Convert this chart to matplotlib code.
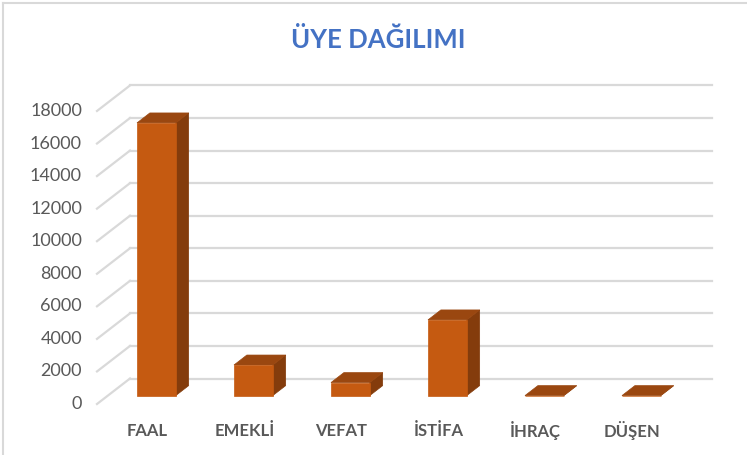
import matplotlib
matplotlib.use("Agg")
import matplotlib.pyplot as plt
from matplotlib.patches import Polygon
from matplotlib.lines import Line2D

categories = ["FAAL", "EMEKLİ", "VEFAT", "İSTİFA", "İHRAÇ", "DÜŞEN"]
values = [16750, 1880, 800, 4650, 0, 0]
yticks = [0, 2000, 4000, 6000, 8000, 10000, 12000, 14000, 16000, 18000]
title = "ÜYE DAĞILIMI"

FRONT = "#C55A11"
TOP = "#9A4710"
SIDE = "#843C0C"
GRID = "#D9D9D9"
TXT = "#595959"

W, H = 747, 455
fig = plt.figure(figsize=(W / 100, H / 100), dpi=100)
ax = fig.add_axes([0, 0, 1, 1])
ax.set_axis_off()

# pixel geometry of the oblique projection
px_per_cat = 97.0
x0_px = 97.0            # front-plane left edge
px_per_val = 16.28 / 1000
y0_px = 404.0           # front-plane zero
ax.set_xlim((0 - x0_px) / px_per_cat - 0.5, (W - x0_px) / px_per_cat - 0.5)
ax.set_ylim((y0_px - H) / px_per_val, y0_px / px_per_val)

# depth vector (category units, value units)
DX = 33.0 / px_per_cat
DY = 25.5 / px_per_val
n = len(categories)


def P(x, v, d):
    return (x + d * DX, v + d * DY)


# back wall gridlines and left wall diagonals
for t in yticks:
    a = P(-0.5, t, 1)
    b = P(n - 0.5, t, 1)
    ax.add_line(Line2D([a[0], b[0]], [a[1], b[1]], color=GRID, lw=1.6, zorder=1))
    c = P(-0.5, t, 0)
    ax.add_line(Line2D([c[0], a[0]], [c[1], a[1]], color=GRID, lw=1.6, zorder=1))
    ax.text(-0.655, t, f"{t}", ha="right", va="center", fontsize=13,
            color=TXT, family="Lato")

# bars
hw = 0.2
d0, d1 = 0.33, 0.72
for i, v in enumerate(values):
    xl, xr = i - hw, i + hw
    side = [P(xr, 0, d0), P(xr, 0, d1), P(xr, v, d1), P(xr, v, d0)]
    ax.add_patch(Polygon(side, closed=True, fc=SIDE, ec=SIDE, lw=0.5, zorder=3))
    top = [P(xl, v, d0), P(xr, v, d0), P(xr, v, d1), P(xl, v, d1)]
    ax.add_patch(Polygon(top, closed=True, fc=TOP, ec=TOP, lw=0.5, zorder=3))
    front = [P(xl, 0, d0), P(xr, 0, d0), P(xr, v, d0), P(xl, v, d0)]
    ax.add_patch(Polygon(front, closed=True, fc=FRONT, ec=FRONT, lw=0.5, zorder=4))
    ax.text(i + 0.02, (y0_px - 431) / px_per_val, categories[i], ha="center",
            va="center", fontsize=12, fontweight="bold", color=TXT, family="Lato")

ax.text(0.507, 1 - 40 / H, title, transform=ax.transAxes, ha="center",
        va="center", fontsize=18.5, fontweight="bold", color="#4472C4", family="Lato")

# chart border (top and left visible)
fig.add_artist(Line2D([2.5 / W, 1], [1 - 2.5 / H, 1 - 2.5 / H],
                      transform=fig.transFigure, color=GRID, lw=1.5))
fig.add_artist(Line2D([2.5 / W, 2.5 / W], [0, 1 - 2.5 / H],
                      transform=fig.transFigure, color=GRID, lw=1.5))

fig.savefig("out.png", dpi=100)
